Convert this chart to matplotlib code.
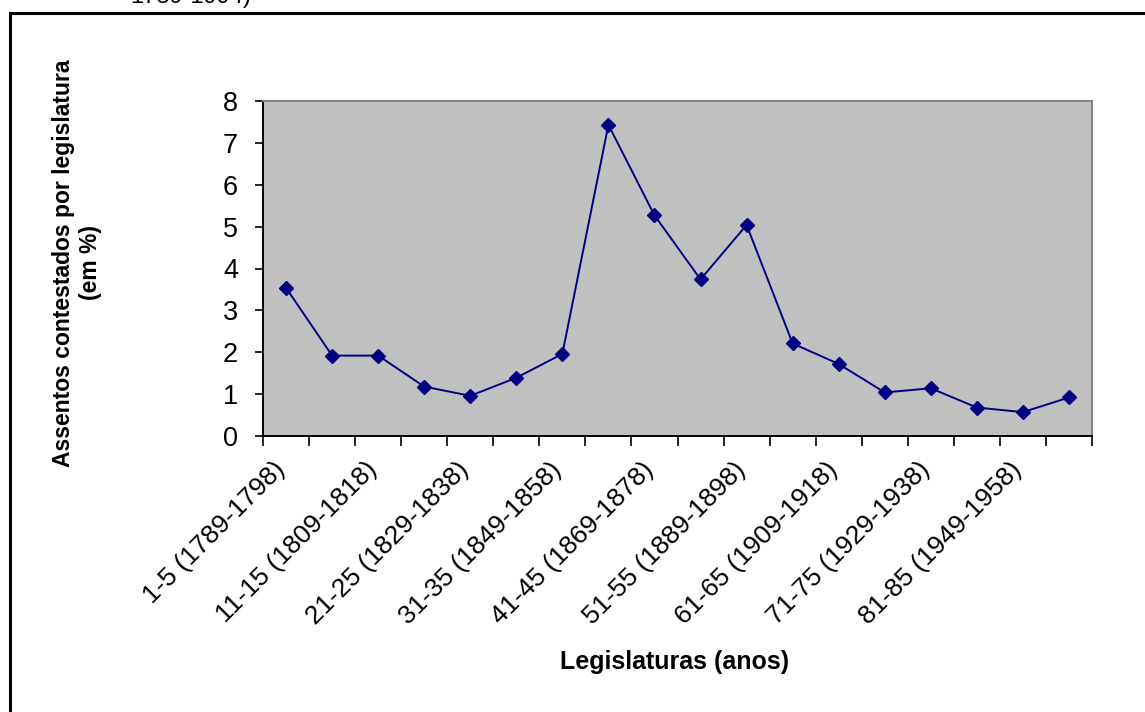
import matplotlib
matplotlib.use("Agg")
import matplotlib.pyplot as plt
from matplotlib.lines import Line2D
import numpy as np

plt.rcParams['font.family'] = ['Liberation Sans', 'DejaVu Sans']

categories = ["1-5 (1789-1798)", "6-10 (1799-1808)", "11-15 (1809-1818)",
              "16-20 (1819-1828)", "21-25 (1829-1838)", "26-30 (1839-1848)",
              "31-35 (1849-1858)", "36-40 (1859-1868)", "41-45 (1869-1878)",
              "46-50 (1879-1888)", "51-55 (1889-1898)", "56-60 (1899-1908)",
              "61-65 (1909-1918)", "66-70 (1919-1928)", "71-75 (1929-1938)",
              "76-80 (1939-1948)", "81-85 (1949-1958)", "86-90 (1959-1968)"]
values = [3.54, 1.92, 1.92, 1.18, 0.96, 1.39, 1.96, 7.43, 5.27,
          3.74, 5.04, 2.21, 1.72, 1.04, 1.14, 0.68, 0.57, 0.92]
y_ticks = [0, 1, 2, 3, 4, 5, 6, 7, 8]

W, H = 1145, 712
fig = plt.figure(figsize=(W / 100, H / 100), dpi=100)
fig.patch.set_facecolor('white')

ax = fig.add_axes([263 / W, 1 - 436 / H, (1092 - 263) / W, (436 - 101) / H])
ax.set_facecolor('#C0C0C0')

x = np.arange(len(categories))
ax.plot(x, values, color='#000080', linewidth=1.4, marker='D', markersize=7,
        markerfacecolor='#000080', markeredgecolor='#000080', zorder=3)

ax.set_xlim(-0.5, len(categories) - 0.5)
ax.set_ylim(0, 8)

# Spines
for s in ('left', 'bottom'):
    ax.spines[s].set_color('black')
    ax.spines[s].set_linewidth(1.4)
for s in ('top', 'right'):
    ax.spines[s].set_color('#808080')
    ax.spines[s].set_linewidth(1.4)

# y ticks
ax.set_yticks(y_ticks)
ax.set_yticklabels([str(v) for v in y_ticks], fontsize=19.5)
ax.tick_params(axis='y', direction='out', length=6, width=1.2, color='black', pad=12)

# x ticks: major at boundaries, labels on minor at centers
ax.set_xticks(np.arange(-0.5, len(categories), 1.0))
ax.set_xticklabels([])
ax.tick_params(axis='x', which='major', direction='out', length=7, width=1.2, color='black')
label_idx = list(range(0, len(categories), 2))
ax.set_xticks(label_idx, minor=True)
ax.set_xticklabels([categories[i] for i in label_idx], minor=True,
                   rotation=45, ha='right', va='baseline', rotation_mode='anchor',
                   fontsize=19)
ax.tick_params(axis='x', which='minor', length=0, pad=25)

ax.set_ylabel("Assentos contestados por legislatura\n(em %)", fontsize=16.5,
              fontweight='bold', linespacing=1.2)
ax.set_xlabel("Legislaturas (anos)", fontsize=18, fontweight='bold')
ax.xaxis.set_label_coords((675 - 263) / (1092 - 263), -(650 - 436) / (436 - 101))
ax.yaxis.set_label_coords(-(263 - 77) / (1092 - 263), (436 - 263) / (436 - 101))
ax.yaxis.label.set_va('center')

# Outer frame (cropped chart border)
fig.add_artist(Line2D([10 / W, 10 / W], [0, 1 - 13 / H], transform=fig.transFigure,
                      color='black', linewidth=2.2))
fig.add_artist(Line2D([10 / W, 1], [1 - 13 / H, 1 - 13 / H], transform=fig.transFigure,
                      color='black', linewidth=2.2))

# Cropped caption remnant at top (cut by the top edge, as in the reference)
fig.text(130 / W, 1 - 3 / H, "1789-1994)", fontsize=17, ha='left', va='baseline', color='black')

fig.savefig("out.png", dpi=100, facecolor='white')
